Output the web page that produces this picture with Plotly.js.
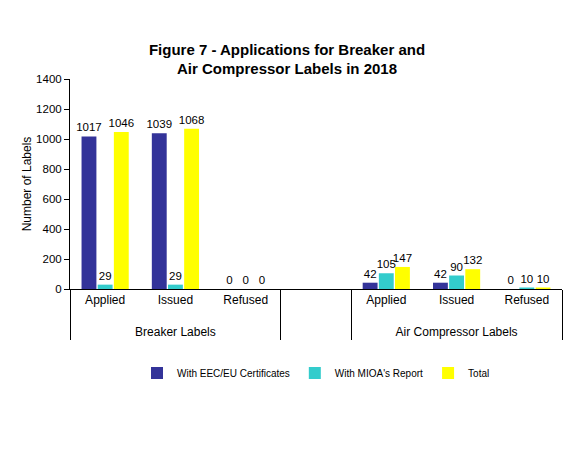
<!DOCTYPE html>
<html>
<head>
<meta charset="utf-8">
<script src="https://cdn.plot.ly/plotly-3.0.1.min.js"></script>
<style>
  body { margin: 0; background: #fff; }
  #plot { width: 574px; height: 457px; }
</style>
</head>
<body>
<div id="plot"></div>
<script>
// Groups and categories (blank middle slot separates the two groups)
var groups = ["Breaker Labels", "Breaker Labels", "Breaker Labels", " ", "Air Compressor Labels", "Air Compressor Labels", "Air Compressor Labels"];
var stages = ["Applied", "Issued", "Refused", " ", "Applied", "Issued", "Refused"];

var eecCerts = [1017, 1039, 0, null, 42, 42, 0];
var mioaReport = [29, 29, 0, null, 105, 90, 10];
var totals = [1046, 1068, 0, null, 147, 132, 10];

// leading break pushes the group labels further below the stage labels
var groupLabels = groups.map(function (g) { return "<br>" + g; });

function makeTrace(vals, name, color) {
    return {
        x: [groupLabels, stages],
        y: vals,
        type: "bar",
        name: name,
        marker: { color: color },
        text: vals.map(function (v) { return v === null ? "" : String(v); }),
        textposition: "outside",
        constraintext: "none",
        cliponaxis: false,
        textfont: { family: "Liberation Sans, Arial, sans-serif", size: 11.5, color: "#000" },
        hoverinfo: "y"
    };
}

var plotData = [
    makeTrace(eecCerts, "With EEC/EU Certificates", "#333399"),
    makeTrace(mioaReport, "With MIOA's Report", "#33CCCC"),
    makeTrace(totals, "Total", "#FFFF00")
];

var layout = {
    width: 574,
    height: 457,
    margin: { l: 70, r: 12, t: 79, b: 168 },
    paper_bgcolor: "#fff",
    plot_bgcolor: "#fff",
    font: { family: "Liberation Sans, Arial, sans-serif", size: 12, color: "#000" },
    title: {
        text: "<b>Figure 7 - Applications for Breaker and<br>Air Compressor Labels in 2018</b>",
        x: 0.5,
        xanchor: "center",
        y: 0.88,
        yanchor: "middle",
        font: { size: 15, color: "#000" }
    },
    barmode: "group",
    bargap: 0.31,
    bargroupgap: 0.08,
    xaxis: {
        type: "multicategory",
        showline: true,
        linecolor: "#000",
        linewidth: 1,
        ticks: "",
        showdividers: true,
        dividercolor: "#000",
        dividerwidth: 1,
        tickfont: { size: 12 },
        showgrid: false
    },
    yaxis: {
        title: { text: "Number of Labels", font: { size: 12 }, standoff: 1 },
        range: [0, 1400],
        dtick: 200,
        showline: true,
        linecolor: "#000",
        linewidth: 1,
        ticks: "outside",
        ticklen: 5,
        tickcolor: "#000",
        showgrid: false,
        zeroline: false,
        tickfont: { size: 11.5 }
    },
    legend: {
        orientation: "h",
        x: 0.5,
        xanchor: "center",
        y: -0.4,
        yanchor: "middle",
        font: { size: 10 },
        itemwidth: 30,
        traceorder: "normal"
    },
    showlegend: true
};

Plotly.newPlot("plot", plotData, layout, { displayModeBar: false, staticPlot: true });
</script>
</body>
</html>
